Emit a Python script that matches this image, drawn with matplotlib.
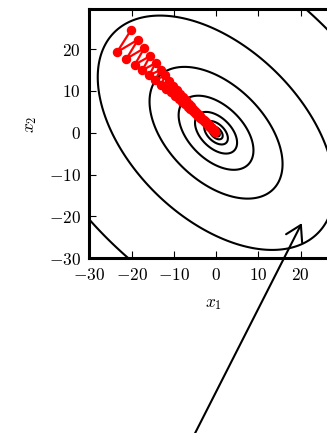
"""
Gradient descent on an ill-conditioned quadratic: zig-zag path over elliptic contours.
Saved as out.png
"""
import numpy as np
import matplotlib
matplotlib.use('Agg')
import matplotlib.pyplot as plt
from matplotlib.ticker import FuncFormatter

plt.rcParams['mathtext.fontset'] = 'cm'
plt.rcParams['font.family'] = ['DejaVu Serif']

# quadratic bowl: semi-axes (level 1) along (1,-1) and (1,1)
major_axis = 34.0
minor_axis = 20.3
contour_levels = [0.001, 0.00316, 0.01, 0.0316, 0.1, 0.316, 1.0, 3.16]

# gradient descent iterates
path_x = [-20.08, -23.43, -18.45, -21.21, -16.98, -19.24, -15.60, -17.46, -14.33, -15.85,
          -13.09, -14.41, -12.04, -13.00, -11.03, -11.82, -10.08, -10.73, -9.26, -9.80,
          -8.49, -8.88, -7.77, -8.11, -7.12, -7.35, -6.46, -6.68, -5.93, -6.07,
          -5.40, -5.54, -4.94, -5.02, -4.53, -4.58, -4.13, -4.21, -3.80, -3.76,
          -3.46, -3.39, -3.25, -3.11, -2.97, -2.83, -2.69, -2.55, -2.47, -2.33,
          -2.26, -2.12, -2.05, -1.98, -1.84, -1.77, -1.70, -1.63, -1.56, -1.48,
          -1.41, -1.27, -1.13, -1.06, -0.92, -0.85, -0.71, -0.57, -0.42, -0.28, -0.14]
path_y = [24.61, 19.28, 22.28, 17.69, 20.22, 16.26, 18.34, 14.93, 16.65, 13.71,
          15.05, 12.60, 13.70, 11.47, 12.45, 10.52, 11.27, 9.64, 10.26, 8.87,
          9.33, 8.09, 8.49, 7.45, 7.73, 6.79, 6.98, 6.19, 6.37, 5.67,
          5.77, 5.20, 5.25, 4.74, 4.80, 4.33, 4.36, 4.00, 3.98, 3.59,
          3.61, 3.39, 3.25, 3.11, 2.97, 2.83, 2.69, 2.55, 2.47, 2.33,
          2.26, 2.12, 2.05, 1.98, 1.84, 1.77, 1.70, 1.63, 1.56, 1.48,
          1.41, 1.27, 1.13, 1.06, 0.92, 0.85, 0.71, 0.57, 0.42, 0.28, 0.14]

ticks = [-30, -20, -10, 0, 10, 20]
arrow_head = (20.3, -21.6)

# ── figure ──────────────────────────────────────
fig = plt.figure(figsize=(3.27, 4.33), dpi=100)
ax = fig.add_axes([0.2731, 0.4035, 0.7752, 0.575])

g = np.linspace(-32, 32, 500)
X, Y = np.meshgrid(g, g)
U = (X - Y) / np.sqrt(2)
V = (X + Y) / np.sqrt(2)
Z = U**2 / major_axis**2 + V**2 / minor_axis**2
ax.contour(X, Y, Z, levels=contour_levels, colors='black', linewidths=1.5)

ax.plot(path_x, path_y, '-o', color='#ff0000', lw=1.6, ms=5.8, mec='#ff0000')

ax.set_xlim(-30, 30)
ax.set_ylim(-29.7, 29.5)
ax.set_xticks(ticks)
ax.set_yticks(ticks)
fmt = FuncFormatter(lambda v, pos: f'${v:g}$')
ax.xaxis.set_major_formatter(fmt)
ax.yaxis.set_major_formatter(fmt)
ax.tick_params(direction='in', length=5, width=0.8, top=True, right=True,
               labelsize=12.5, pad=6)
for s in ax.spines.values():
    s.set_linewidth(2.2)

ax.set_xlabel('$x_1$', fontsize=12.5)
ax.set_ylabel('$x_2$', fontsize=12.5)
ax.xaxis.set_label_coords(0.492, -0.148)
ax.yaxis.set_label_coords(-0.198, 0.539)

ax.annotate('', xy=arrow_head, xytext=(185, -20), textcoords='figure pixels',
            arrowprops=dict(arrowstyle='->,head_length=0.4,head_width=0.24',
                            color='black', lw=1.5, mutation_scale=27,
                            shrinkA=0, shrinkB=0),
            annotation_clip=False)

fig.savefig('out.png', dpi=100)
